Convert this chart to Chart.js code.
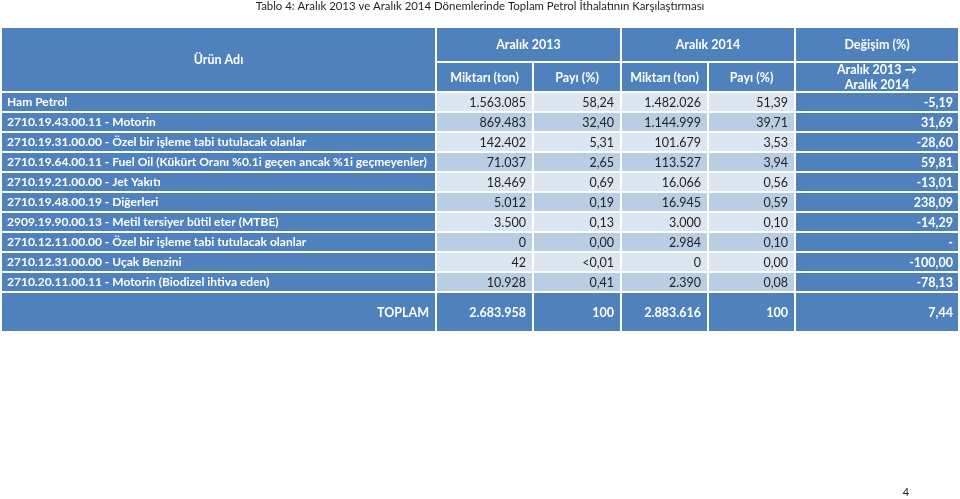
<!DOCTYPE html>
<html>
<head>
<meta charset="utf-8">
<script src="https://cdn.jsdelivr.net/npm/chart.js@4.4.1/dist/chart.umd.min.js"></script>
<style>
  body { margin: 0; background: #fff; }
</style>
</head>
<body>
<canvas id="myChart" width="960" height="499"></canvas>
<script>
// table content
const products = [
  "Ham Petrol",
  "2710.19.43.00.11 - Motorin",
  "2710.19.31.00.00 - Özel bir işleme tabi tutulacak olanlar",
  "2710.19.64.00.11 - Fuel Oil (Kükürt Oranı %0.1i geçen ancak %1i geçmeyenler)",
  "2710.19.21.00.00 - Jet Yakıtı",
  "2710.19.48.00.19 - Diğerleri",
  "2909.19.90.00.13 - Metil tersiyer bütil eter (MTBE)",
  "2710.12.11.00.00 - Özel bir işleme tabi tutulacak olanlar",
  "2710.12.31.00.00 - Uçak Benzini",
  "2710.20.11.00.11 - Motorin (Biodizel ihtiva eden)"
];
const qty2013 = [1563085, 869483, 142402, 71037, 18469, 5012, 3500, 0, 42, 10928];
const share2013 = [58.24, 32.40, 5.31, 2.65, 0.69, 0.19, 0.13, 0.00, "<0,01", 0.41];
const qty2014 = [1482026, 1144999, 101679, 113527, 16066, 16945, 3000, 2984, 0, 2390];
const share2014 = [51.39, 39.71, 3.53, 3.94, 0.56, 0.59, 0.10, 0.10, 0.00, 0.08];
const change = [-5.19, 31.69, -28.60, 59.81, -13.01, 238.09, -14.29, null, -100.00, -78.13];
const totals = [2683958, "100", 2883616, "100", 7.44];

const headerFirst = "Ürün Adı";
const headerGroups = ["Aralık 2013", "Aralık 2014", "Değişim (%)"];
const subHeaders = ["Miktarı (ton)", "Payı (%)", "Miktarı (ton)", "Payı (%)", "Aralık 2013 →\nAralık 2014"];
const totalLabel = "TOPLAM";
const titleText = "Tablo 4: Aralık 2013 ve Aralık 2014 Dönemlerinde Toplam Petrol İthalatının Karşılaştırması";
const pageNumber = "4";

// layout
const BLUE = "#4f81bd", DARK = "#b9cde5", LIGHT = "#dce6f2";
const FONT = "Lato, 'Noto Sans', sans-serif";
const edges = [1, 436, 533, 621, 708, 795, 959];   // column borders on the x scale
const groupSpans = [[1, 2], [3, 4], [5, 5]];
const SLOTS = 61;                                  // 5px row slots on the y scale
const HEAD_TOP = 7, HEAD_SUB = 6, ROW = 4, TOTAL = 8;
const B = 1;

function fmtInt(n) {
  if (typeof n === "string") return n;
  return String(n).replace(/\B(?=(\d{3})+(?!\d))/g, ".");
}
function fmtDec(v) {
  if (v === null) return "-";
  if (typeof v === "string") return v;
  return v.toFixed(2).replace(".", ",");
}

const HEAD = { align: "center", bold: true, color: "#fff", size: 12.5 };
const NAME = { align: "left", bold: true, color: "#fff", size: 12 };
const VAL = { align: "right", bold: false, color: "#1f1f1f", size: 12.5 };
const CHG = { align: "right", bold: true, color: "#fff", size: 12.5 };

const cells = [];
function addCell(c0, c1, s0, s1, bg, text, style) {
  cells.push(Object.assign({ c0, c1, s0, s1, bg, text }, style));
}

const headEnd = HEAD_TOP + HEAD_SUB - 1;
addCell(0, 0, 0, headEnd, BLUE, headerFirst, HEAD);
headerGroups.forEach((g, i) => addCell(groupSpans[i][0], groupSpans[i][1], 0, HEAD_TOP - 1, BLUE, g, HEAD));
subHeaders.forEach((h, i) => addCell(1 + i, 1 + i, HEAD_TOP, headEnd, BLUE, h, HEAD));

products.forEach((p, i) => {
  const s0 = headEnd + 1 + ROW * i, s1 = s0 + ROW - 1;
  const bg = i % 2 ? DARK : LIGHT;
  addCell(0, 0, s0, s1, BLUE, p, NAME);
  addCell(1, 1, s0, s1, bg, fmtInt(qty2013[i]), VAL);
  addCell(2, 2, s0, s1, bg, fmtDec(share2013[i]), VAL);
  addCell(3, 3, s0, s1, bg, fmtInt(qty2014[i]), VAL);
  addCell(4, 4, s0, s1, bg, fmtDec(share2014[i]), VAL);
  addCell(5, 5, s0, s1, BLUE, fmtDec(change[i]), CHG);
});

const t0 = headEnd + 1 + ROW * products.length, t1 = t0 + TOTAL - 1;
addCell(0, 0, t0, t1, BLUE, totalLabel, CHG);
addCell(1, 1, t0, t1, BLUE, fmtInt(totals[0]), CHG);
addCell(2, 2, t0, t1, BLUE, fmtDec(totals[1]), CHG);
addCell(3, 3, t0, t1, BLUE, fmtInt(totals[2]), CHG);
addCell(4, 4, t0, t1, BLUE, fmtDec(totals[3]), CHG);
addCell(5, 5, t0, t1, BLUE, fmtDec(totals[4]), CHG);

// one floating-bar dataset per starting column
const slotLabels = Array.from({ length: SLOTS }, (_, i) => "r" + i);
const layers = edges.slice(0, -1).map(() => ({
  data: new Array(SLOTS).fill(null),
  colors: new Array(SLOTS).fill("rgba(0,0,0,0)"),
  borders: new Array(SLOTS).fill(0)
}));
cells.forEach(cl => {
  for (let s = cl.s0; s <= cl.s1; s++) {
    const l = layers[cl.c0];
    l.data[s] = [edges[cl.c0], edges[cl.c1 + 1]];
    l.colors[s] = cl.bg;
    l.borders[s] = { left: B, right: B, top: s === cl.s0 ? B : 0, bottom: s === cl.s1 ? B : 0 };
  }
});

const cellText = {
  id: "cellText",
  afterDatasetsDraw(chart) {
    const { ctx, scales: { x, y } } = chart;
    const half = (y.getPixelForValue(1) - y.getPixelForValue(0)) / 2;
    ctx.save();
    ctx.textBaseline = "middle";
    cells.forEach(cl => {
      const left = x.getPixelForValue(edges[cl.c0]);
      const right = x.getPixelForValue(edges[cl.c1 + 1]);
      const top = y.getPixelForValue(cl.s0) - half;
      const bottom = y.getPixelForValue(cl.s1) + half;
      ctx.font = (cl.bold ? "bold " : "") + cl.size + "px " + FONT;
      ctx.fillStyle = cl.color;
      ctx.textAlign = cl.align;
      let tx = (left + right) / 2;
      if (cl.align === "left") tx = left + 6;
      if (cl.align === "right") tx = right - (cl.c0 === 5 ? 6 : 7);
      const lines = cl.text.split("\n");
      lines.forEach((ln, k) => {
        const ty = (top + bottom) / 2 + (k - (lines.length - 1) / 2) * 15 + 0.5;
        ctx.fillText(ln, tx, ty);
      });
    });
    ctx.restore();
  },
  afterDraw(chart) {
    const { ctx } = chart;
    ctx.save();
    ctx.font = "11px " + FONT;
    ctx.fillStyle = "#1f1f1f";
    ctx.textAlign = "center";
    ctx.textBaseline = "middle";
    ctx.fillText(pageNumber, chart.width - 54, chart.height - 7);
    ctx.restore();
  }
};

new Chart("myChart", {
  type: "bar",
  data: {
    labels: slotLabels,
    datasets: layers.map(l => ({
      data: l.data,
      backgroundColor: l.colors,
      borderColor: "#ffffff",
      borderWidth: ctx => (ctx.dataIndex === undefined ? 0 : (layers[ctx.datasetIndex].borders[ctx.dataIndex] || 0)),
      borderSkipped: false,
      inflateAmount: 0,
      grouped: false,
      barPercentage: 1,
      categoryPercentage: 1
    }))
  },
  options: {
    indexAxis: "y",
    responsive: false,
    animation: false,
    layout: { padding: { top: 0, left: 0, right: 0, bottom: 499 - 27 - SLOTS * 5 } },
    scales: {
      x: { type: "linear", min: 0, max: 960, display: false },
      y: { type: "category", display: false }
    },
    plugins: {
      legend: { display: false },
      tooltip: { enabled: false },
      title: {
        display: true,
        text: titleText,
        color: "#1f1f1f",
        font: { family: FONT, size: 11.4, weight: "normal", lineHeight: 1 },
        padding: { top: 1, bottom: 15 - 0.4 }
      }
    }
  },
  plugins: [cellText]
});
</script>
</body>
</html>
